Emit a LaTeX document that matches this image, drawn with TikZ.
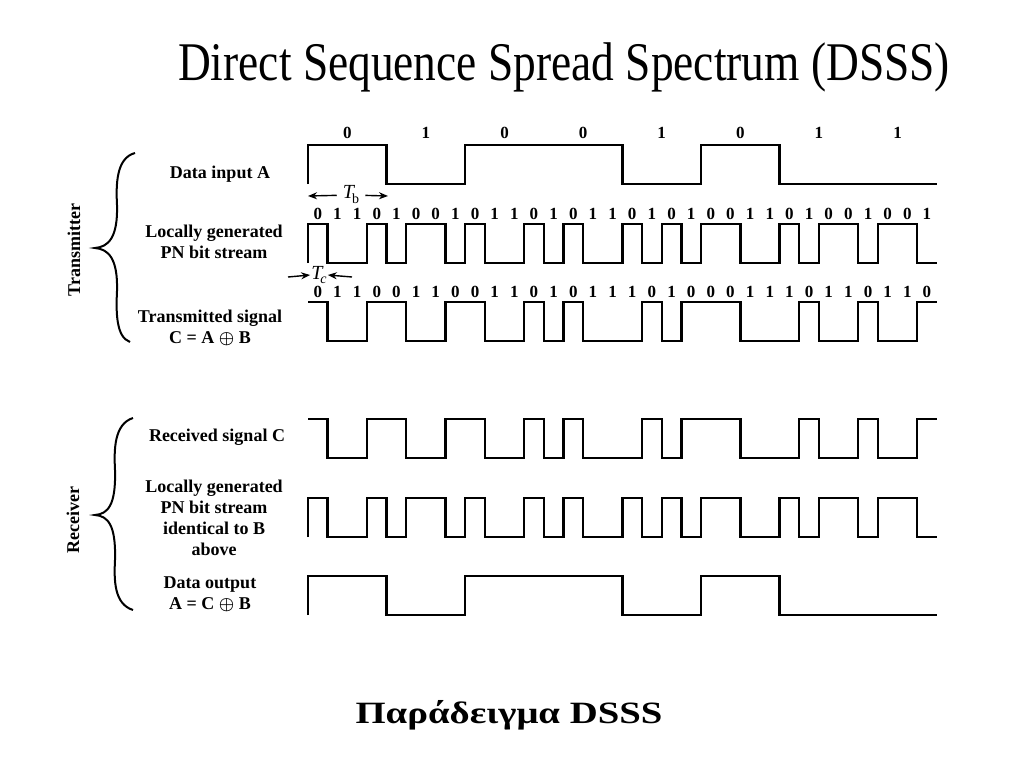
\documentclass[tikz,border=0pt]{standalone}
\usepackage{fontspec}
\setmainfont{Liberation Serif}
\usetikzlibrary{arrows.meta}

% one signal: start level, high level, width of a step, bit list
\newcommand{\wave}[4]{%
  \draw[sig] (308,#1) foreach \bit [count=\i from 0] in {#4}
    { -- ({308+\i*#3},{#2+39*\bit}) -- ({308+(\i+1)*#3},{#2+39*\bit}) };}

\tikzset{
  sig/.style={line width=2.4pt, line join=miter},
  lbl/.style={font=\bfseries\fontsize{18}{21}\selectfont, align=center, inner sep=0pt},
  chip/.style={font=\bfseries\fontsize{17}{17}\selectfont, inner sep=0pt},
  dim/.style={-{Stealth[length=9pt,width=7pt]}, line width=1.4pt},
  curly/.style={line width=2pt}
}

\begin{document}
\begin{tikzpicture}[x=1pt,y=-1pt]
    \useasboundingbox (0,0) rectangle (1024,768);
    \node[anchor=base west, inner sep=0pt, font=\fontsize{45.4}{46}\selectfont] (title) at (178,80)
        {\scalebox{1}[1.2]{Direct Sequence Spread Spectrum (DSSS)}};

    % transmitter side
    \draw[curly] (135,153) .. controls (116,158) and (116,185) .. (117,205)
        .. controls (118,238) and (108,247) .. (95,248)
        .. controls (108,249) and (118,258) .. (117,291)
        .. controls (116,312) and (116,337) .. (130,342);
    \node[lbl, rotate=90] (tx) at (74,250) {Transmitter};
    \node[lbl] (la) at (220,174) {Data input A};
    \node[lbl] (lb) at (214,242) {Locally generated\\PN bit stream};
    \node[lbl] (lc) at (210,328) {Transmitted signal\\C = A {\boldmath$\oplus$} B};

    \foreach \bit [count=\i from 0] in {0,1,0,0,1,0,1,1}
        \node[chip] (a\i) at ({308+(\i+0.5)*78.6},133) {\bit};
    \wave{184}{145}{78.6}{0,1,0,0,1,0,1,1}

    \coordinate (tbl) at (308,196);
    \coordinate (tbr) at (388,196);
    \node[inner sep=6pt, font=\fontsize{20}{20}\selectfont] (tb) at (351,195)
        {\itshape T\kern-2pt\raisebox{-5pt}{\upshape\fontsize{14}{14}\selectfont b}};
    \draw[dim] (tb) -- (tbl);
    \draw[dim] (tb) -- (tbr);

    \foreach \bit [count=\i from 0] in {0,1,1,0,1,0,0,1,0,1,1,0,1,0,1,1,0,1,0,1,0,0,1,1,0,1,0,0,1,0,0,1}
        \node[chip] (b\i) at ({308+(\i+0.5)*19.65},214) {\bit};
    \wave{263}{224}{19.65}{0,1,1,0,1,0,0,1,0,1,1,0,1,0,1,1,0,1,0,1,0,0,1,1,0,1,0,0,1,0,0,1}

    \node[inner sep=1pt, font=\fontsize{20}{20}\selectfont] (tc) at (319,275)
        {\itshape T\kern-2pt\raisebox{-4pt}{\fontsize{14}{14}\selectfont c}};
    \coordinate (tcl) at (288,277);
    \coordinate (tcr) at (352,277);
    \draw[dim] (tcl) -- (tc.west);
    \draw[dim] (tcr) -- (tc.east);

    \foreach \bit [count=\i from 0] in {0,1,1,0,0,1,1,0,0,1,1,0,1,0,1,1,1,0,1,0,0,0,1,1,1,0,1,1,0,1,1,0}
        \node[chip] (c\i) at ({308+(\i+0.5)*19.65},292) {\bit};
    \wave{302}{302}{19.65}{0,1,1,0,0,1,1,0,0,1,1,0,1,0,1,1,1,0,1,0,0,0,1,1,1,0,1,1,0,1,1,0}

    % receiver side
    \draw[curly] (133,418) .. controls (114,424) and (114,450) .. (115,470)
        .. controls (116,505) and (108,514) .. (95,515)
        .. controls (108,516) and (116,525) .. (115,560)
        .. controls (114,580) and (114,604) .. (133,610);
    \node[lbl, rotate=90] (rx) at (73,520) {Receiver};
    \node[lbl] (lr) at (217,437) {Received signal C};
    \node[lbl] (lp) at (214,518) {Locally generated\\PN bit stream\\identical to B\\above};
    \node[lbl] (lo) at (210,594) {Data output\\A = C {\boldmath$\oplus$} B};

    \wave{419}{419}{19.65}{0,1,1,0,0,1,1,0,0,1,1,0,1,0,1,1,1,0,1,0,0,0,1,1,1,0,1,1,0,1,1,0}
    \wave{537}{498}{19.65}{0,1,1,0,1,0,0,1,0,1,1,0,1,0,1,1,0,1,0,1,0,0,1,1,0,1,0,0,1,0,0,1}
    \wave{615}{576}{78.6}{0,1,0,0,1,0,1,1}

    \node[anchor=base, inner sep=0pt, font=\bfseries\fontsize{31}{31}\selectfont] (caption) at (509,723)
        {\scalebox{1.25}[1]{Παράδειγμα DSSS}};
\end{tikzpicture}
\end{document}
